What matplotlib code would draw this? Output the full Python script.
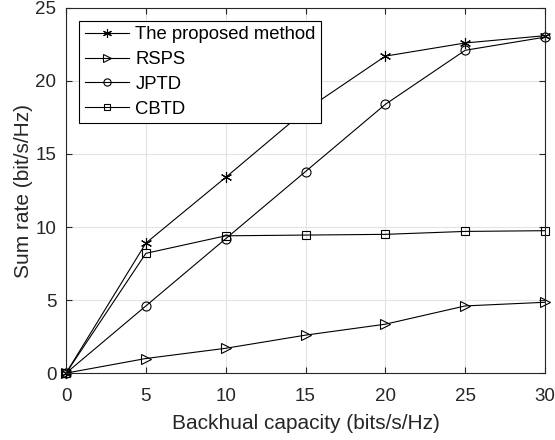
import matplotlib
matplotlib.use('Agg')
import matplotlib.pyplot as plt

plt.rcParams['font.family'] = ['Liberation Sans', 'DejaVu Sans']

capacity = [0, 5, 10, 15, 20, 25, 30]
proposed = [0, 8.9, 13.4, 18.0, 21.7, 22.6, 23.1]
rsps = [0, 1.0, 1.7, 2.6, 3.35, 4.6, 4.85]
jptd = [0, 4.6, 9.2, 13.8, 18.4, 22.1, 23.0]
cbtd = [0, 8.2, 9.4, 9.45, 9.5, 9.7, 9.75]

labels = ['The proposed method', 'RSPS', 'JPTD', 'CBTD']
# matlab-like asterisk, right triangle, circle, square
markers = [(6, 2, 0), '>', 'o', 's']
sizes = [8, 7, 6.5, 6]

fig = plt.figure(figsize=(5.55, 4.4), dpi=100)
ax = fig.add_axes([0.119, 0.152, 0.863, 0.830])

for vals, lab, mk, ms in zip([proposed, rsps, jptd, cbtd], labels, markers, sizes):
    ax.plot(capacity, vals, color='k', linewidth=0.8, marker=mk,
            markersize=ms, markerfacecolor='none', markeredgewidth=0.8,
            label=lab, clip_on=False)

ax.set_xlim(0, 30)
ax.set_ylim(0, 25)
ax.set_xticks(range(0, 31, 5))
ax.set_yticks(range(0, 26, 5))
ax.grid(True, color='#e3e3e3', linewidth=0.8)
ax.set_axisbelow(True)
for s in ax.spines.values():
    s.set_color('#262626')
    s.set_linewidth(0.8)
ax.tick_params(direction='in', length=4, labelsize=13.5, colors='#262626',
               top=True, right=True)
ax.tick_params(axis='x', pad=11)
ax.tick_params(axis='y', pad=7)
ax.set_xlabel('Backhual capacity (bits/s/Hz)', fontsize=15, color='#262626',
              labelpad=6)
ax.set_ylabel('Sum rate (bit/s/Hz)', fontsize=15, color='#262626', labelpad=2)

leg = ax.legend(loc='upper left', fontsize=13.3, fancybox=False, framealpha=1,
                edgecolor='k', borderaxespad=0.7, handlelength=2.4,
                labelspacing=0.42, handletextpad=0.35, borderpad=0.3,
                markerscale=0.8)
leg.get_frame().set_linewidth(0.8)

fig.savefig('out.png', dpi=100)
